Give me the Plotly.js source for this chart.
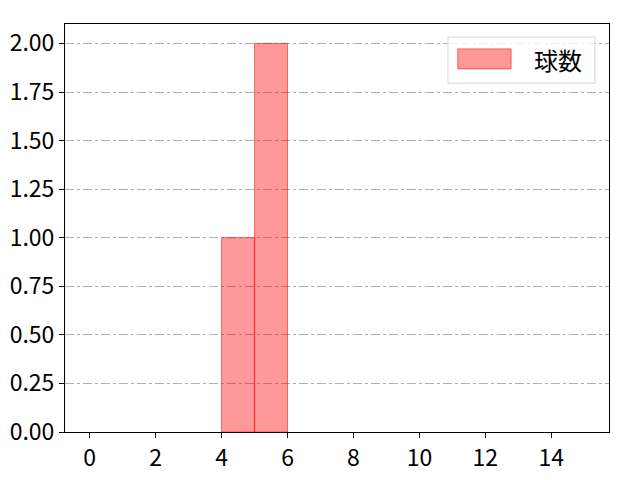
<!DOCTYPE html>
<html>
<head>
<meta charset="utf-8">
<script src="https://cdn.plot.ly/plotly-3.0.1.min.js"></script>
<style>body{margin:0;padding:0;background:#fff}#chart{width:640px;height:480px}</style>
</head>
<body>
<div id="chart"></div>
<script>
const binLeft = [4, 5];
const binWidth = [1, 1];
const counts = [1, 2];
const seriesName = "球数";
const xTicks = [0, 2, 4, 6, 8, 10, 12, 14];
const yTicks = [0, 0.25, 0.5, 0.75, 1.0, 1.25, 1.5, 1.75, 2.0];

const font = 'Noto Sans CJK JP';

const trace = {
  type: 'bar',
  x: binLeft.map((v, i) => v + binWidth[i] / 2),
  y: counts,
  width: binWidth,
  name: seriesName,
  marker: {color: 'rgba(255,0,0,0.4)', line: {color: 'rgba(255,0,0,0.55)', width: 1}},
  showlegend: false
};

const layout = {
  width: 640, height: 480,
  margin: {l: 65, r: 31, t: 24, b: 48},
  paper_bgcolor: '#fff', plot_bgcolor: '#fff',
  font: {family: font, size: 23, color: '#000'},
  bargap: 0,
  showlegend: false,
  xaxis: {
    range: [-0.75, 15.75], tickvals: xTicks, ticktext: xTicks.map(String),
    showgrid: false, zeroline: false, showline: true, linecolor: '#000', linewidth: 1, mirror: true,
    ticks: 'outside', ticklen: 5, tickcolor: '#000', tickfont: {size: 23, family: font, color: '#000'}
  },
  yaxis: {
    range: [0, 2.1], tickvals: yTicks, ticktext: yTicks.map(v => v.toFixed(2)),
    showgrid: true, gridcolor: '#b0b0b0', gridwidth: 1, griddash: 'dashdot',
    zeroline: false, showline: true, linecolor: '#000', linewidth: 1, mirror: true,
    ticks: 'outside', ticklen: 5, tickcolor: '#000', tickfont: {size: 23, family: font, color: '#000'}
  },
  shapes: [
    {type: 'rect', xref: 'paper', yref: 'paper', x0: 0.704, x1: 0.974, y0: 0.855, y1: 0.968,
     fillcolor: 'rgba(255,255,255,0.8)', line: {color: '#d6d6d6', width: 1}},
    {type: 'rect', xref: 'paper', yref: 'paper', x0: 0.722, x1: 0.820, y0: 0.890, y1: 0.939,
     fillcolor: 'rgba(255,0,0,0.4)', line: {color: 'rgba(255,0,0,0.55)', width: 1}}
  ],
  annotations: [
    {xref: 'paper', yref: 'paper', x: 0.858, y: 0.912, xanchor: 'left', yanchor: 'middle',
     text: seriesName, showarrow: false, font: {size: 24, family: font, color: '#000'}}
  ]
};

Plotly.newPlot('chart', [trace], layout, {displayModeBar: false, staticPlot: true});
</script>
</body>
</html>
